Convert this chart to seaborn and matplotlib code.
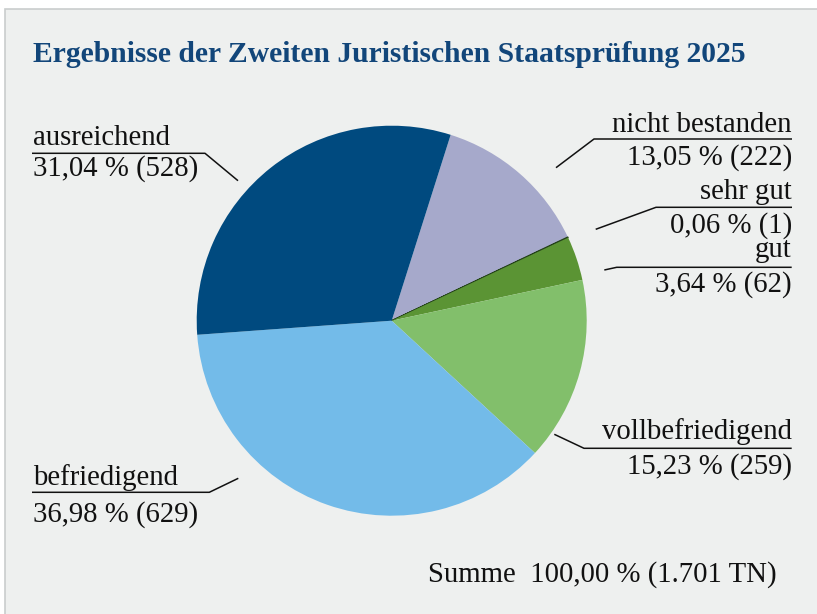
import matplotlib
matplotlib.use("Agg")
import matplotlib.pyplot as plt
import seaborn as sns
from matplotlib.patches import Rectangle

# Daten
kategorien = ["nicht bestanden", "sehr gut", "gut", "vollbefriedigend", "befriedigend", "ausreichend"]
anzahl = [222, 1, 62, 259, 629, 528]
prozent = [13.05, 0.06, 3.64, 15.23, 36.98, 31.04]
farben = ["#a6a9cb", "#24421a", "#5b9434", "#82bf6b", "#73bbe9", "#004a7f"]
titel = "Ergebnisse der Zweiten Juristischen Staatsprüfung 2025"
summe_text = "Summe  100,00 % (1.701 TN)"

sns.set_theme(style="white")
plt.rcParams["font.family"] = ["Liberation Serif", "DejaVu Serif"]

W, H = 817, 614
fig = plt.figure(figsize=(W / 100, H / 100), dpi=100)
fig.patch.set_facecolor("white")
ax = fig.add_axes([0, 0, 1, 1])


def Y(y):
    return H - y


# Hintergrund-Panel
ax.add_patch(Rectangle((5.5, -5), W, Y(8.5) + 5, facecolor="#eef0ef", edgecolor="#c9cdcd", lw=1.2, zorder=0))

# Kreisdiagramm
wedges, _ = ax.pie(anzahl, colors=farben, startangle=72.4, counterclock=False,
                   center=(391.7, Y(320.7)), radius=195, frame=True,
                   wedgeprops=dict(linewidth=0))
wedges[1].set_edgecolor(farben[1])
wedges[1].set_linewidth(0.9)

ax.set_xlim(0, W)
ax.set_ylim(0, H)
ax.set_aspect("equal")
ax.axis("off")

# Titel
ax.text(33, Y(62.3), titel, fontsize=21.3, fontweight="bold", color="#12467a", ha="left", va="baseline")


def fmt(p, n):
    return f"{p:.2f}".replace(".", ",") + f" % ({n})"


fs = 20.7
# Beschriftungen: (x, ha, Basis Zeile 1, Basis Zeile 2, Führungslinie)
beschriftung = {
    "nicht bestanden": (792, "right", 132, 165, [(792, 139), (594, 139), (556, 167.7)]),
    "sehr gut": (792, "right", 199, 233, [(792, 207.3), (656, 207.3), (595.7, 229.3)]),
    "gut": (792, "right", 257, 291.7, [(791.7, 267.3), (616.7, 267.3), (604.3, 270)]),
    "vollbefriedigend": (792, "right", 439.3, 474, [(791.7, 448.3), (584, 448.3), (554.3, 434.3)]),
    "befriedigend": (33, "left", 485, 521.7, [(32, 492.3), (209.3, 492.3), (238.3, 478.3)]),
    "ausreichend": (33, "left", 145, 176, [(32, 153.3), (205, 153.3), (238, 180.7)]),
}

for kat, p, n in zip(kategorien, prozent, anzahl):
    x, ha, b1, b2, linie = beschriftung[kat]
    ax.text(x, Y(b1), kat, fontsize=fs, ha=ha, va="baseline", color="#111111")
    ax.text(x, Y(b2), fmt(p, n), fontsize=fs, ha=ha, va="baseline", color="#111111")
    xs = [pt[0] for pt in linie]
    ys = [Y(pt[1]) for pt in linie]
    ax.plot(xs, ys, color="#111111", lw=1.1, solid_capstyle="butt")

ax.text(428.3, Y(581.7), summe_text, fontsize=fs, ha="left", va="baseline", color="#111111")

fig.savefig("out.png", dpi=100, facecolor=fig.get_facecolor())
